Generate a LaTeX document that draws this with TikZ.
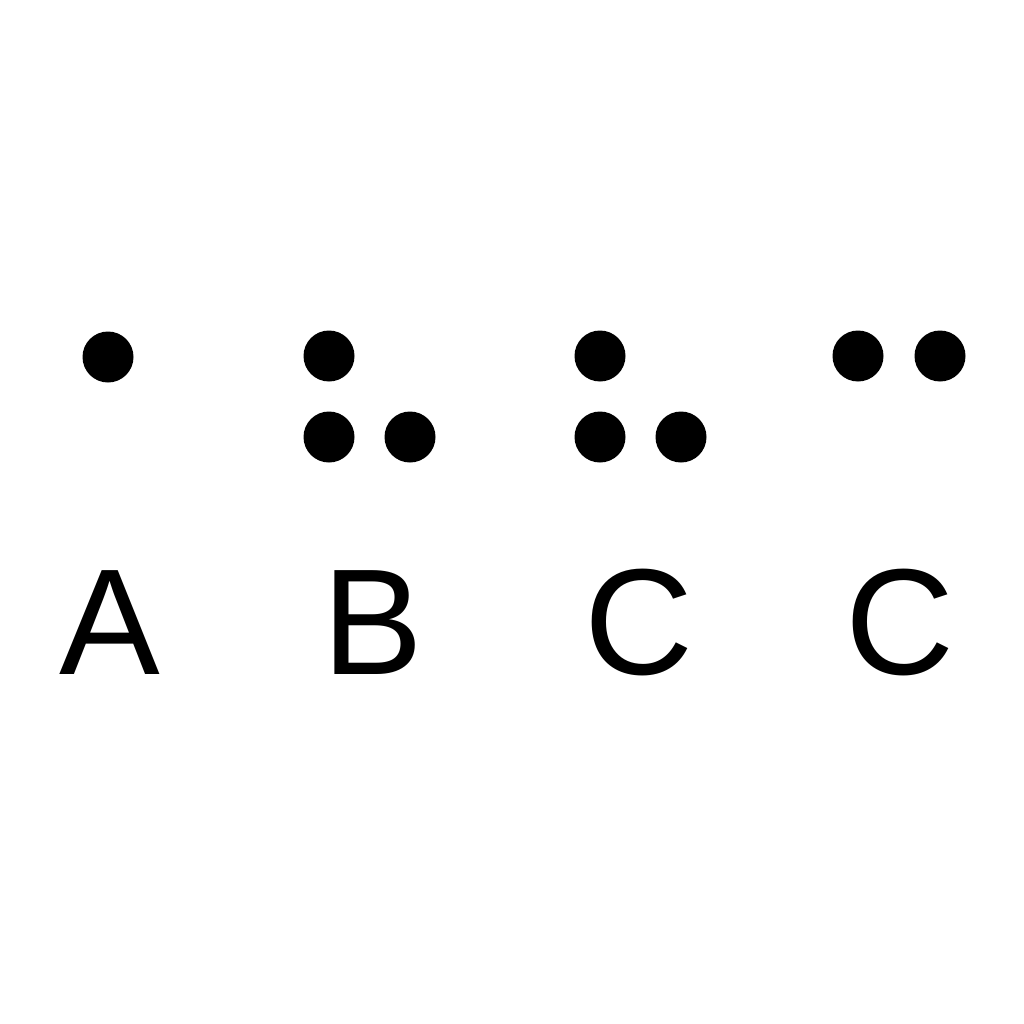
\documentclass[tikz,border=0pt]{standalone}
\usepackage{fontspec}
\setmainfont{Liberation Sans}
\begin{document}
\begin{tikzpicture}[x=1pt,y=-1pt,
  brdot/.style={fill=black,draw=none},
  letter/.style={inner sep=0pt,anchor=base,font=\fontsize{151}{151}\selectfont}]
\useasboundingbox (0,0) rectangle (1024,1024);
\fill[white] (0,0) rectangle (1024,1024);
% A
\fill[brdot] (108,357) circle (25.5);
% B
\fill[brdot] (329,356) circle (25.5);
\fill[brdot] (329,437) circle (25.5);
\fill[brdot] (410,437) circle (25.5);
% C
\fill[brdot] (600,356) circle (25.5);
\fill[brdot] (600,437) circle (25.5);
\fill[brdot] (681,437) circle (25.5);
% C (second)
\fill[brdot] (858,356) circle (25.5);
\fill[brdot] (940,356) circle (25.5);
\node[letter] (la) at (110,674) {A};
\node[letter] (lb) at (373,674) {B};
\node[letter] (lc) at (639,674) {C};
\node[letter] (ld) at (900,674) {C};
\end{tikzpicture}
\end{document}
